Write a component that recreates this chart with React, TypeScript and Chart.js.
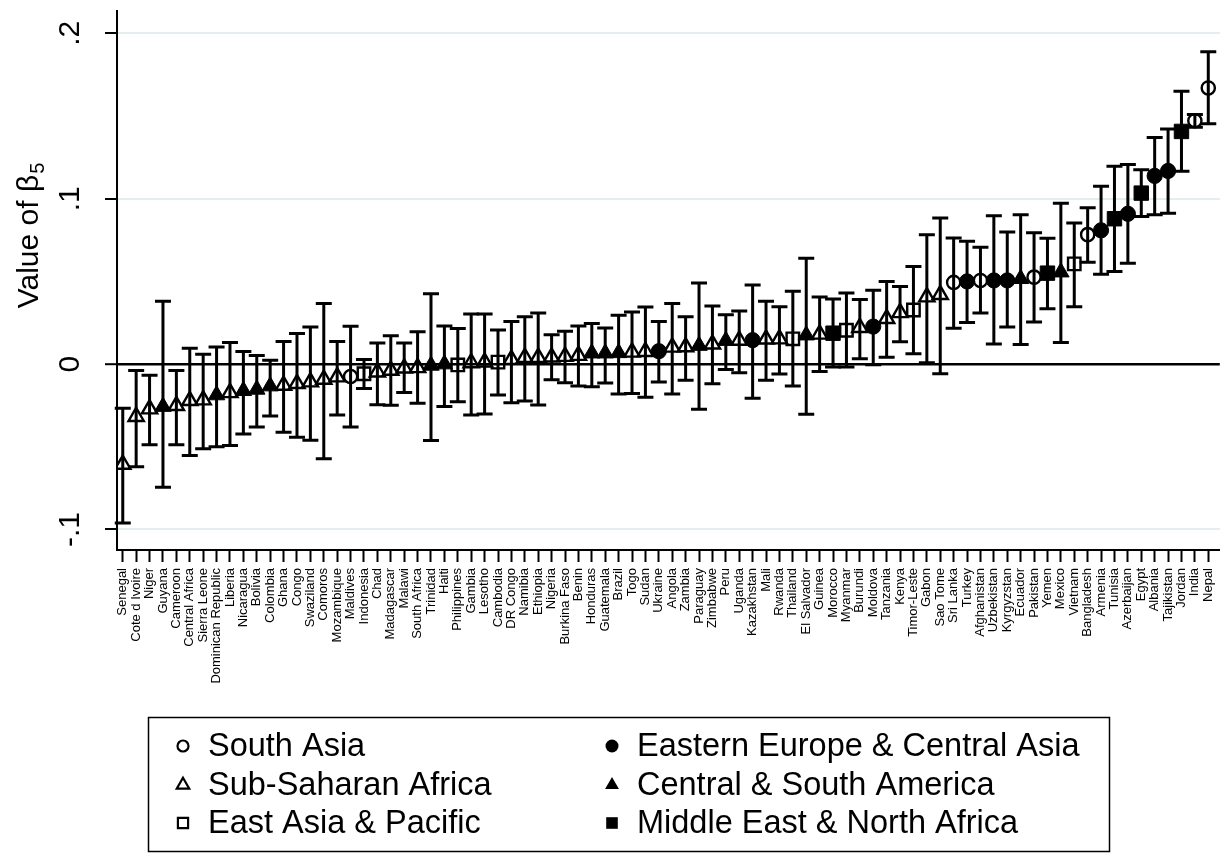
import React, { useEffect, useRef } from 'react';
import { Chart, registerables } from 'chart.js';

Chart.register(...registerables);

const FONT = "'Liberation Sans', Arial, Helvetica, sans-serif";

// ---------------- DATA ----------------
const countries = [
  'Senegal', 'Cote d Ivoire', 'Niger', 'Guyana', 'Cameroon', 'Central Africa', 'Sierra Leone',
  'Dominican Republic', 'Liberia', 'Nicaragua', 'Bolivia', 'Colombia', 'Ghana', 'Congo',
  'Swaziland', 'Comoros', 'Mozambique', 'Maldives', 'Indonesia', 'Chad', 'Madagascar',
  'Malawi', 'South Africa', 'Trinidad', 'Haiti', 'Philippines', 'Gambia', 'Lesotho',
  'Cambodia', 'DR Congo', 'Namibia', 'Ethiopia', 'Nigeria', 'Burkina Faso', 'Benin',
  'Honduras', 'Guatemala', 'Brazil', 'Togo', 'Sudan', 'Ukraine', 'Angola', 'Zambia',
  'Paraguay', 'Zimbabwe', 'Peru', 'Uganda', 'Kazakhstan', 'Mali', 'Rwanda', 'Thailand',
  'El Salvador', 'Guinea', 'Morocco', 'Myanmar', 'Burundi', 'Moldova', 'Tanzania', 'Kenya',
  'Timor-Leste', 'Gabon', 'Sao Tome', 'Sri Lanka', 'Turkey', 'Afghanistan', 'Uzbekistan',
  'Kyrgyzstan', 'Ecuador', 'Pakistan', 'Yemen', 'Mexico', 'Vietnam', 'Bangladesh',
  'Armenia', 'Tunisia', 'Azerbaijan', 'Egypt', 'Albania', 'Tajikistan', 'Jordan', 'India',
  'Nepal',
];

const estimates = [
  -0.0606, -0.0317, -0.0271, -0.0257, -0.0251, -0.0221, -0.0217,
  -0.0187, -0.0173, -0.0161, -0.0153, -0.0133, -0.0128, -0.0118,
  -0.0108, -0.0092, -0.0078, -0.0075, -0.0058, -0.0048, -0.0038,
  -0.0024, -0.0022, -0.0008, 0.0, -0.0005, 0.0008, 0.0012,
  0.0012, 0.0028, 0.004, 0.004, 0.0042, 0.0046, 0.0052,
  0.0066, 0.0066, 0.0068, 0.0072, 0.0076, 0.0078, 0.0102, 0.0104,
  0.0112, 0.0121, 0.0142, 0.0144, 0.0145, 0.0151, 0.0152, 0.0153,
  0.0175, 0.0181, 0.0187, 0.0205, 0.0221, 0.0227, 0.0275, 0.0311,
  0.0327, 0.0406, 0.042, 0.0494, 0.05, 0.0506, 0.0506,
  0.0506, 0.0516, 0.0526, 0.055, 0.0556, 0.0606, 0.0783,
  0.0809, 0.0879, 0.0909, 0.1034, 0.1138, 0.1168, 0.1407, 0.1472,
  0.167,
];

const lowerCI = [
  -0.096, -0.062, -0.0488, -0.0745, -0.0488, -0.0552, -0.0512,
  -0.05, -0.0492, -0.0422, -0.038, -0.0313, -0.0412, -0.0442,
  -0.046, -0.0572, -0.0307, -0.038, -0.0148, -0.0245, -0.0249,
  -0.0171, -0.0237, -0.0462, -0.0257, -0.0227, -0.0307, -0.0301,
  -0.0187, -0.0233, -0.0223, -0.0247, -0.0094, -0.0112, -0.0133,
  -0.0137, -0.0114, -0.0181, -0.0177, -0.0201, -0.0108, -0.0181, -0.0098,
  -0.0273, -0.0118, -0.0032, -0.0052, -0.0207, -0.0098, -0.006, -0.0133,
  -0.0303, -0.0044, -0.0018, -0.0018, 0.0032, -0.0004, 0.0042, 0.0135,
  0.0062, 0.0008, -0.0058, 0.0217, 0.0251, 0.0309, 0.0121,
  0.0225, 0.0118, 0.0255, 0.0335, 0.0131, 0.0347, 0.0616,
  0.0544, 0.056, 0.061, 0.0893, 0.0903, 0.0913, 0.1166, 0.1433,
  0.1453,
];

const upperCI = [
  -0.0267, -0.0038, -0.0068, 0.038, -0.0038, 0.0096, 0.006,
  0.0104, 0.0131, 0.0076, 0.0052, 0.0024, 0.0137, 0.0185,
  0.0225, 0.0367, 0.0136, 0.0229, 0.0028, 0.0127, 0.0171,
  0.0127, 0.0195, 0.0426, 0.0231, 0.0215, 0.0303, 0.0303,
  0.0207, 0.0257, 0.0287, 0.0309, 0.0178, 0.0199, 0.0231,
  0.0245, 0.0219, 0.0295, 0.0315, 0.0345, 0.0257, 0.0367, 0.0287,
  0.049, 0.0351, 0.0299, 0.0321, 0.0478, 0.038, 0.0347, 0.044,
  0.064, 0.0406, 0.0394, 0.043, 0.039, 0.0446, 0.05, 0.047,
  0.059, 0.0783, 0.0883, 0.0763, 0.0743, 0.0707, 0.0897,
  0.0799, 0.0903, 0.0795, 0.0761, 0.0973, 0.0853, 0.0946,
  0.1076, 0.1197, 0.1207, 0.1176, 0.1371, 0.1421, 0.165, 0.151,
  0.1889,
];

const regionOf = [
  'SSA', 'SSA', 'SSA', 'CSA', 'SSA', 'SSA', 'SSA',
  'CSA', 'SSA', 'CSA', 'CSA', 'CSA', 'SSA', 'SSA',
  'SSA', 'SSA', 'SSA', 'SA', 'EAP', 'SSA', 'SSA',
  'SSA', 'SSA', 'CSA', 'CSA', 'EAP', 'SSA', 'SSA',
  'EAP', 'SSA', 'SSA', 'SSA', 'SSA', 'SSA', 'SSA',
  'CSA', 'CSA', 'CSA', 'SSA', 'SSA', 'EECA', 'SSA', 'SSA',
  'CSA', 'SSA', 'CSA', 'SSA', 'EECA', 'SSA', 'SSA', 'EAP',
  'CSA', 'SSA', 'MENA', 'EAP', 'SSA', 'EECA', 'SSA', 'SSA',
  'EAP', 'SSA', 'SSA', 'SA', 'EECA', 'SA', 'EECA',
  'EECA', 'CSA', 'SA', 'MENA', 'CSA', 'EAP', 'SA',
  'EECA', 'MENA', 'EECA', 'MENA', 'EECA', 'EECA', 'MENA', 'SA',
  'SA',
];

const regionCodes = ['SA', 'SSA', 'EAP', 'EECA', 'CSA', 'MENA'];
const regionNames = [
  'South Asia', 'Sub-Saharan Africa', 'East Asia & Pacific',
  'Eastern Europe & Central Asia', 'Central & South America', 'Middle East & North Africa',
];

const yTickValues = [-0.1, 0, 0.1, 0.2];
const yTickLabels = ['-.1', '0', '.1', '.2'];
const yTitle = 'Value of β';
const yTitleSub = '5';

// ---------------- STYLE ----------------
const markerStyle: Record<string, { shape: string; filled: boolean; r: number; lr: number }> = {
  SA: { shape: 'circle', filled: false, r: 6.6, lr: 5.5 },
  SSA: { shape: 'triangle', filled: false, r: 8.8, lr: 7.2 },
  EAP: { shape: 'rect', filled: false, r: 8.8, lr: 7.2 },
  EECA: { shape: 'circle', filled: true, r: 7.6, lr: 6.5 },
  CSA: { shape: 'triangle', filled: true, r: 9.5, lr: 8 },
  MENA: { shape: 'rect', filled: true, r: 10.2, lr: 8.2 },
};

const GRID = '#e4edf0';

function drawMarker(ctx: CanvasRenderingContext2D, shape: string, filled: boolean, x: number, y: number, r: number) {
  ctx.beginPath();
  if (shape === 'circle') {
    ctx.arc(x, y, r, 0, Math.PI * 2);
  } else if (shape === 'triangle') {
    const w = r * Math.sin(Math.PI * 2 / 3);
    ctx.moveTo(x, y - r);
    ctx.lineTo(x + w, y + r / 2);
    ctx.lineTo(x - w, y + r / 2);
    ctx.closePath();
  } else {
    const s = r * Math.SQRT1_2;
    ctx.rect(x - s, y - s, 2 * s, 2 * s);
  }
  if (filled) {
    ctx.fillStyle = '#000';
    ctx.fill();
  } else {
    ctx.lineWidth = 2.2;
    ctx.strokeStyle = '#000';
    ctx.stroke();
  }
}

const errorBarPlugin = {
  id: 'errorBars',
  beforeDatasetsDraw(chart: any) {
    const { ctx, scales } = chart;
    const x = scales.x;
    const y = scales.y;
    ctx.save();
    ctx.strokeStyle = '#000';
    ctx.lineWidth = 3;
    countries.forEach((_, i) => {
      const px = x.getPixelForValue(i);
      const top = y.getPixelForValue(upperCI[i]);
      const bot = y.getPixelForValue(lowerCI[i]);
      ctx.beginPath();
      ctx.moveTo(px, top);
      ctx.lineTo(px, bot);
      ctx.moveTo(px - 8, top);
      ctx.lineTo(px + 8, top);
      ctx.moveTo(px - 8, bot);
      ctx.lineTo(px + 8, bot);
      ctx.stroke();
    });
    ctx.restore();
  },
};

const axisTextPlugin = {
  id: 'axisText',
  afterDraw(chart: any) {
    const { ctx, scales } = chart;
    const y = scales.y;
    ctx.save();
    ctx.fillStyle = '#000';
    // y tick labels (rotated)
    ctx.font = `30px ${FONT}`;
    ctx.textAlign = 'center';
    ctx.textBaseline = 'middle';
    yTickValues.forEach((v, i) => {
      const py = y.getPixelForValue(v);
      ctx.save();
      ctx.translate(71, py);
      ctx.rotate(-Math.PI / 2);
      ctx.fillText(yTickLabels[i], 0, 0);
      ctx.restore();
    });
    // y title with subscript
    ctx.save();
    ctx.translate(30, 236);
    ctx.rotate(-Math.PI / 2);
    ctx.font = `30px ${FONT}`;
    const w1 = ctx.measureText(yTitle).width;
    ctx.font = `20px ${FONT}`;
    const w2 = ctx.measureText(yTitleSub).width;
    const start = -(w1 + w2) / 2;
    ctx.textAlign = 'left';
    ctx.textBaseline = 'middle';
    ctx.font = `30px ${FONT}`;
    ctx.fillText(yTitle, start, 0);
    ctx.font = `20px ${FONT}`;
    ctx.fillText(yTitleSub, start + w1 + 1, 8);
    ctx.restore();

    // legend
    const bx = 148.5, by = 717.5, bw = 961, bh = 134;
    ctx.lineWidth = 1.5;
    ctx.strokeStyle = '#000';
    ctx.strokeRect(bx, by, bw, bh);
    const order = [0, 3, 1, 4, 2, 5];
    const colMarker = [183, 612];
    const colText = [208, 637];
    const rows = [746, 785, 823];
    ctx.font = `32.5px ${FONT}`;
    ctx.textAlign = 'left';
    ctx.textBaseline = 'middle';
    order.forEach((ri, k) => {
      const col = k % 2;
      const row = Math.floor(k / 2);
      const st = markerStyle[regionCodes[ri]];
      drawMarker(ctx, st.shape, st.filled, colMarker[col], rows[row], st.lr);
      ctx.fillStyle = '#000';
      ctx.fillText(regionNames[ri], colText[col], rows[row] + 1);
    });
    ctx.restore();
  },
};

export default function App() {
  const canvasRef = useRef<HTMLCanvasElement | null>(null);

  useEffect(() => {
    const canvas = canvasRef.current;
    if (!canvas) return;
    Chart.defaults.font.family = FONT;

    const datasets = regionCodes.map((code, ri) => {
      const st = markerStyle[code];
      const data = countries
        .map((_, i) => ({ x: i, y: estimates[i], code: regionOf[i] }))
        .filter((p) => p.code === code)
        .map((p) => ({ x: p.x, y: p.y }));
      return {
        label: regionNames[ri],
        data,
        pointStyle: st.shape,
        pointRadius: st.r,
        pointBorderWidth: st.filled ? 1 : 2.4,
        pointBackgroundColor: st.filled ? '#000' : 'rgba(0,0,0,0)',
        pointBorderColor: '#000',
        showLine: false,
      };
    });

    const chart = new Chart(canvas, {
      type: 'scatter',
      data: { datasets: datasets as any },
      plugins: [errorBarPlugin, axisTextPlugin],
      options: {
        animation: false,
        responsive: false,
        events: [],
        layout: { padding: { top: 5, right: 11, bottom: 0, left: 0 } },
        plugins: {
          legend: { display: false },
          tooltip: { enabled: false },
        },
        scales: {
          x: {
            type: 'linear',
            min: -0.43,
            max: 81.86,
            afterFit: (scale: any) => {
              scale.height = 315;
            },
            border: { display: true, color: '#000', width: 2 },
            grid: {
              drawOnChartArea: false,
              drawTicks: true,
              tickLength: 12,
              tickColor: '#000',
              tickWidth: 2,
            },
            ticks: {
              stepSize: 1,
              autoSkip: false,
              includeBounds: false,
              minRotation: 90,
              maxRotation: 90,
              padding: 6,
              color: '#000',
              font: { size: 13, family: FONT },
              callback: (v: any) => countries[Math.round(Number(v))] ?? '',
            },
          },
          y: {
            type: 'linear',
            min: -0.1124,
            max: 0.2134,
            afterFit: (scale: any) => {
              scale.width = 117;
            },
            border: { display: true, color: '#000', width: 2 },
            grid: {
              color: (c: any) => (c.tick && Math.abs(c.tick.value) < 1e-9 ? '#000' : GRID),
              lineWidth: (c: any) => (c.tick && Math.abs(c.tick.value) < 1e-9 ? 2.4 : 2),
              drawTicks: true,
              tickLength: 12,
              tickColor: '#000',
              tickWidth: 2,
            },
            ticks: {
              stepSize: 0.1,
              includeBounds: false,
              display: false,
            },
          },
        },
      } as any,
    });

    return () => chart.destroy();
  }, []);

  return (
    <div style={{ position: 'absolute', left: 0, top: 0, width: 1231, height: 865, background: '#fff' }}>
      <canvas ref={canvasRef} width={1231} height={865} style={{ display: 'block' }} />
    </div>
  );
}
